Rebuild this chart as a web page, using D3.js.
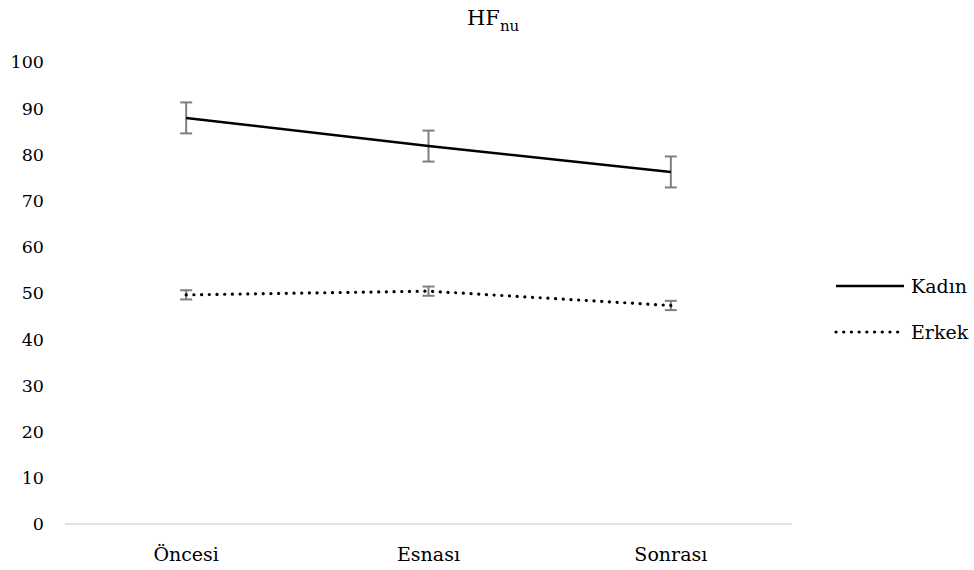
<!DOCTYPE html>
<html><head><meta charset="utf-8">
<script src="https://cdn.jsdelivr.net/npm/d3@7"></script>
<style>body{margin:0;background:#fff}svg{display:block}</style>
</head><body><svg id="c" width="974" height="570" font-family="'DejaVu Serif', serif"></svg>
<script>
const categories = ["Öncesi", "Esnası", "Sonrası"];
const seriesNames = ["Kadın", "Erkek"];
const kadin = [87.9, 81.8, 76.2];
const kadinErr = [3.35, 3.35, 3.35];
const erkek = [49.6, 50.4, 47.3];
const erkekErr = [1.0, 1.0, 1.0];
const yTicks = [0,10,20,30,40,50,60,70,80,90,100];

const svg = d3.select("#c");
const x = d3.scaleBand().domain(categories).range([65, 792]);
const y = d3.scaleLinear().domain([0, 100]).range([524, 62]);
const cx = d => x(d) + x.bandwidth()/2;

svg.append("line").attr("x1",65).attr("x2",792).attr("y1",y(0)).attr("y2",y(0))
  .attr("stroke","#d9d9d9").attr("stroke-width",1.5);

svg.append("g").selectAll("text").data(yTicks).join("text")
  .attr("x",44).attr("y",d=>y(d)).attr("dy","0.36em").attr("text-anchor","end")
  .attr("font-size",17.5).text(d=>d);

svg.append("g").selectAll("text").data(categories).join("text")
  .attr("x",d=>cx(d)).attr("y",561).attr("text-anchor","middle")
  .attr("font-size",19).text(d=>d);

const t = svg.append("text").attr("x",467).attr("y",25).attr("font-size",21);
t.append("tspan").text("HF");
t.append("tspan").attr("font-size",15).attr("dy",6).text("nu");

const series = [
  {name: seriesNames[0], vals: kadin, err: kadinErr, dash: null},
  {name: seriesNames[1], vals: erkek, err: erkekErr, dash: "0.1,7.6"}
];
const line = d3.line().x((d,i)=>cx(categories[i])).y(d=>y(d));

series.forEach(s => {
  const g = svg.append("g");
  s.vals.forEach((v,i) => {
    const px = cx(categories[i]);
    const eg = g.append("g").attr("stroke","#7f7f7f").attr("stroke-width",2);
    eg.append("line").attr("x1",px).attr("x2",px).attr("y1",y(v+s.err[i])).attr("y2",y(v-s.err[i]));
    eg.append("line").attr("x1",px-6).attr("x2",px+6).attr("y1",y(v+s.err[i])).attr("y2",y(v+s.err[i]));
    eg.append("line").attr("x1",px-6).attr("x2",px+6).attr("y1",y(v-s.err[i])).attr("y2",y(v-s.err[i]));
  });
  const p = g.append("path").attr("d", line(s.vals)).attr("fill","none").attr("stroke","#000")
    .attr("stroke-width", s.dash ? 3.2 : 2.5);
  if (s.dash) p.attr("stroke-dasharray", s.dash).attr("stroke-linecap","round");
});

const lg = svg.append("g");
series.forEach((s,i) => {
  const ly = 286 + i*46;
  const l = lg.append("line").attr("x1",836).attr("x2",904).attr("y1",ly).attr("y2",ly)
    .attr("stroke","#000").attr("stroke-width", s.dash ? 3.2 : 2.5);
  if (s.dash) l.attr("stroke-dasharray", s.dash).attr("stroke-linecap","round");
  lg.append("text").attr("x",911).attr("y",ly).attr("dy","0.36em").attr("font-size",19).text(s.name);
});
</script></body></html>
